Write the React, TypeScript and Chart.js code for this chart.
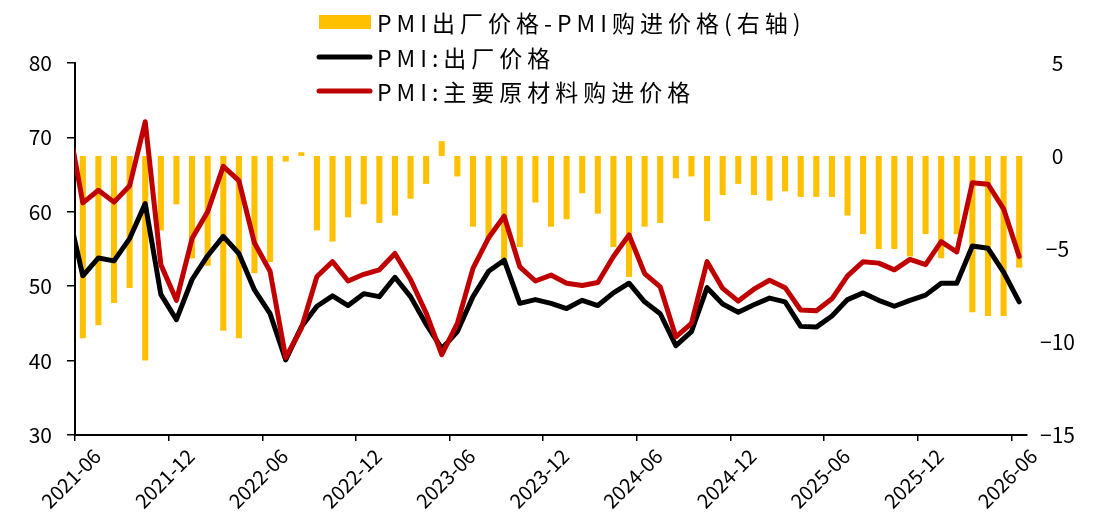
import React, { useEffect, useRef } from "react";
import { Chart, registerables } from "chart.js";

Chart.register(...registerables);

const FONT = '"Noto Sans CJK SC", "Noto Sans", sans-serif';

const months = [
  "2021-06", "2021-07", "2021-08", "2021-09", "2021-10", "2021-11", "2021-12",
  "2022-01", "2022-02", "2022-03", "2022-04", "2022-05", "2022-06", "2022-07", "2022-08", "2022-09", "2022-10", "2022-11", "2022-12",
  "2023-01", "2023-02", "2023-03", "2023-04", "2023-05", "2023-06", "2023-07", "2023-08", "2023-09", "2023-10", "2023-11", "2023-12",
  "2024-01", "2024-02", "2024-03", "2024-04", "2024-05", "2024-06", "2024-07", "2024-08", "2024-09", "2024-10", "2024-11", "2024-12",
  "2025-01", "2025-02", "2025-03", "2025-04", "2025-05", "2025-06", "2025-07", "2025-08", "2025-09", "2025-10", "2025-11", "2025-12",
  "2026-01", "2026-02", "2026-03", "2026-04", "2026-05", "2026-06",
];

// PMI:出厂价格
const outputPrice = [
  51.4, 53.8, 53.4, 56.4, 61.1, 48.9, 45.5,
  50.9, 54.1, 56.7, 54.4, 49.5, 46.3, 40.1, 44.5, 47.3, 48.7, 47.4, 49.0,
  48.6, 51.2, 48.6, 44.9, 41.6, 43.9, 48.6, 52.0, 53.5, 47.7, 48.2, 47.7,
  47.0, 48.1, 47.4, 49.1, 50.4, 47.9, 46.3, 42.0, 43.9, 49.8, 47.6, 46.5,
  47.5, 48.4, 47.9, 44.6, 44.5, 46.0, 48.2, 49.1, 48.1, 47.3, 48.1, 48.8,
  50.4, 50.4, 55.4, 55.1, 51.9, 47.9,
];

// PMI:主要原材料购进价格
const inputPrice = [
  61.2, 62.9, 61.3, 63.5, 72.1, 52.9, 48.1,
  56.4, 60.0, 66.1, 64.2, 55.8, 52.0, 40.4, 44.3, 51.3, 53.3, 50.7, 51.6,
  52.2, 54.4, 50.9, 46.4, 40.8, 45.0, 52.4, 56.5, 59.4, 52.6, 50.7, 51.5,
  50.4, 50.1, 50.5, 54.0, 56.9, 51.7, 49.9, 43.2, 45.0, 53.3, 49.7, 48.0,
  49.6, 50.8, 49.8, 46.8, 46.7, 48.3, 51.4, 53.3, 53.1, 52.2, 53.6, 52.9,
  56.0, 54.6, 63.9, 63.7, 60.4, 54.0,
];

// PMI出厂价格-PMI购进价格(右轴)
const priceSpread = [
  -9.8, -9.1, -7.9, -7.1, -11.0, -4.0, -2.6,
  -5.5, -5.9, -9.4, -9.8, -6.3, -5.7, -0.3, 0.2, -4.0, -4.6, -3.3, -2.6,
  -3.6, -3.2, -2.3, -1.5, 0.8, -1.1, -3.8, -4.5, -5.9, -4.9, -2.5, -3.8,
  -3.4, -2.0, -3.1, -4.9, -6.5, -3.8, -3.6, -1.2, -1.1, -3.5, -2.1, -1.5,
  -2.1, -2.4, -1.9, -2.2, -2.2, -2.2, -3.2, -4.2, -5.0, -5.0, -5.4, -4.2,
  -5.5, -4.2, -8.4, -8.6, -8.6, -6.0,
];

// month before the first category (2021-05), only its segment into the plot is visible
const prevMonth = "2021-05";
const prevOutputPrice = 60.6;
const prevInputPrice = 72.8;

const seriesNames = ["PMI出厂价格-PMI购进价格(右轴)", "PMI:出厂价格", "PMI:主要原材料购进价格"];
const labelEvery = 6;

const BAR_COLOR = "#FFC000";
const BLACK = "#000000";
const RED = "#C00000";

const legendPlugin = {
  id: "stackedLegend",
  afterDraw(chart: any) {
    const ctx = chart.ctx as CanvasRenderingContext2D;
    const rows = [22, 57, 91];
    const x0 = 317;
    const x1 = 372;
    ctx.save();
    chart.data.datasets.forEach((ds: any, i: number) => {
      const y = rows[i];
      if (ds.type === "bar") {
        ctx.fillStyle = ds.backgroundColor;
        ctx.fillRect(x0 + 2, y - 7, x1 - x0 - 3, 14);
      } else {
        ctx.strokeStyle = ds.borderColor;
        ctx.lineWidth = 5;
        ctx.lineCap = "round";
        ctx.beginPath();
        ctx.moveTo(x0 + 2, y);
        ctx.lineTo(x1 - 2, y);
        ctx.stroke();
      }
      ctx.fillStyle = "#000";
      ctx.font = `23px ${FONT}`;
      ctx.textAlign = "left";
      ctx.textBaseline = "middle";
      (ctx as any).letterSpacing = "5px";
      ctx.fillText(ds.label, 377, y + 1);
      (ctx as any).letterSpacing = "0px";
    });
    ctx.restore();
  },
};

export default function App() {
  const canvasRef = useRef<HTMLCanvasElement | null>(null);

  useEffect(() => {
    if (!canvasRef.current) return;
    const toMinus = (v: any) => String(v).replace("-", "\u2212");

    const chart = new Chart(canvasRef.current, {
      type: "bar",
      data: {
        datasets: [
          {
            type: "bar",
            label: seriesNames[0],
            data: priceSpread.map((v, i) => ({ x: i, y: v })),
            backgroundColor: BAR_COLOR,
            borderWidth: 0,
            yAxisID: "y1",
            xAxisID: "x",
            barPercentage: 0.39,
            categoryPercentage: 1,
            order: 3,
          } as any,
          {
            type: "line",
            label: seriesNames[1],
            data: [{ x: -1, y: prevOutputPrice, m: prevMonth }, ...outputPrice.map((v, i) => ({ x: i, y: v }))],
            borderColor: BLACK,
            backgroundColor: BLACK,
            borderWidth: 5,
            pointRadius: 0,
            tension: 0,
            borderJoinStyle: "round",
            borderCapStyle: "round",
            clip: 0,
            yAxisID: "y",
            xAxisID: "x",
            order: 2,
          } as any,
          {
            type: "line",
            label: seriesNames[2],
            data: [{ x: -1, y: prevInputPrice, m: prevMonth }, ...inputPrice.map((v, i) => ({ x: i, y: v }))],
            borderColor: RED,
            backgroundColor: RED,
            borderWidth: 5,
            pointRadius: 0,
            tension: 0,
            borderJoinStyle: "round",
            borderCapStyle: "round",
            clip: 0,
            yAxisID: "y",
            xAxisID: "x",
            order: 1,
          } as any,
        ],
      },
      options: {
        animation: false,
        responsive: true,
        maintainAspectRatio: false,
        layout: { padding: { top: 63, left: 0, right: 0, bottom: 0 } },
        plugins: {
          legend: { display: false },
          tooltip: { enabled: false },
        },
        scales: {
          x: {
            type: "linear",
            offset: false,
            min: -0.5,
            max: months.length - 0.5,
            afterBuildTicks: (scale: any) => {
              scale.ticks = months
                .map((_, i) => i)
                .filter((i) => i % labelEvery === 0)
                .map((i) => ({ value: i - 0.5 }));
            },
            afterFit: (scale: any) => {
              scale.height = 90;
            },
            border: { display: true, color: "#000", width: 2 },
            grid: { display: true, offset: false, drawOnChartArea: false, drawTicks: true, tickLength: 6, color: "#000", lineWidth: 1.5 },
            ticks: {
              autoSkip: false,
              minRotation: 45,
              maxRotation: 45,
              labelOffset: 22,
              padding: 3,
              color: "#000",
              font: { family: FONT, size: 20 },
              callback: (value: any) => months[Math.round(Number(value) + 0.5)] ?? "",
            },
          },
          y: {
            type: "linear",
            position: "left",
            min: 30,
            max: 80,
            afterFit: (scale: any) => {
              scale.width = 75;
            },
            border: { display: true, color: "#000", width: 2 },
            grid: { display: true, drawOnChartArea: false, drawTicks: true, tickLength: 8, color: "#000", lineWidth: 1.5 },
            ticks: {
              stepSize: 10,
              padding: 15,
              color: "#000",
              font: { family: FONT, size: 21 },
            },
          },
          y1: {
            type: "linear",
            position: "right",
            min: -15,
            max: 5,
            afterFit: (scale: any) => {
              scale.width = 92;
            },
            border: { display: false },
            grid: { display: false, drawTicks: false, drawOnChartArea: false },
            ticks: {
              stepSize: 5,
              padding: 13,
              crossAlign: "center",
              color: "#000",
              font: { family: FONT, size: 21 },
              callback: (value: any) => toMinus(value),
            },
          },
        },
      } as any,
      plugins: [legendPlugin],
    });

    return () => chart.destroy();
  }, []);

  return (
    <div style={{ position: "fixed", left: 0, top: 0, width: 1119, height: 525, background: "#fff" }}>
      <canvas ref={canvasRef} />
    </div>
  );
}
